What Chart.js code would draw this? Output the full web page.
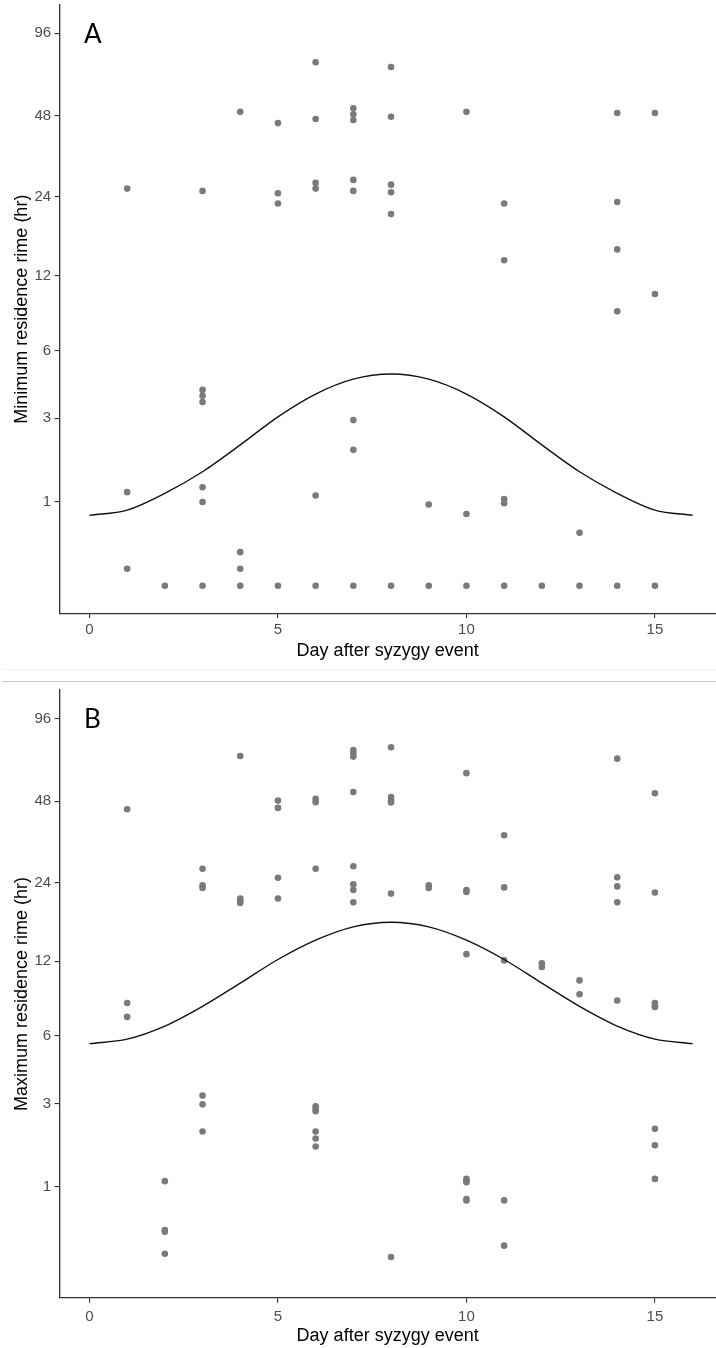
<!DOCTYPE html>
<html><head><meta charset="utf-8">
<script src="https://cdn.jsdelivr.net/npm/chart.js@4"></script>
<style>
html,body{margin:0;padding:0;background:#fff;width:716px;height:1348px;overflow:hidden;position:relative}
canvas{position:absolute;left:0}
#ca{top:0}
#cb{top:684px}
.lbl{position:absolute;font-family:Lato,'Liberation Sans',sans-serif;font-size:26px;line-height:26px;color:#000}
.sep{position:absolute;left:2px;width:714px;height:1px}
</style></head><body>
<canvas id="ca" width="716" height="668"></canvas>
<canvas id="cb" width="716" height="664"></canvas>
<div class="sep" style="top:669px;background:#f2f2f2"></div>
<div class="sep" style="top:681px;background:#c8c8c8"></div>
<div class="lbl" style="left:84px;top:19.5px">A</div>
<div class="lbl" style="left:84px;top:704.5px">B</div>
<script>
const tickHours = [1, 3, 6, 12, 24, 48, 96];
const tickLabels = ['1', '3', '6', '12', '24', '48', '96'];
const xTicks = [0, 5, 10, 15];

const daysA = [1,1,1, 2, 3,3,3,3,3,3,3, 4,4,4,4, 5,5,5,5, 6,6,6,6,6,6, 7,7,7,7,7,7,7,7, 8,8,8,8,8,8, 9,9, 10,10,10, 11,11,11,11,11, 12, 13,13, 14,14,14,14,14, 15,15,15];
const minHours = [25.8,1.17,0.15, 0, 25.3,4.06,3.82,3.58,1.26,1.0,0, 49.6,0.32,0.15,0, 45.1,24.8,22.7,0, 75.3,46.7,27.1,25.8,1.11,0, 51.1,48.6,46.3,27.8,25.3,2.94,2.08,0, 72.4,47.6,26.7,25.0,20.7,0, 0.96,0, 49.6,0.81,0, 22.7,13.8,1.05,0.98,0, 0, 0.55,0, 49.1,23.0,15.2,8.7,0, 49.1,10.2,0];

const daysB = [1,1,1, 2,2,2,2, 3,3,3,3,3,3, 4,4,4,4, 5,5,5,5, 6,6,6,6,6,6,6,6,6, 7,7,7,7,7,7,7,7, 8,8,8,8,8,8, 9,9, 10,10,10,10,10,10,10,10,10, 11,11,11,11,11, 12,12, 13,13, 14,14,14,14,14, 15,15,15,15,15,15,15,15];
const maxHours = [44.9,8.2,7.2, 1.10,0.40,0.38,0.15, 27.0,23.4,22.9,3.27,2.97,2.17, 70.4,20.9,20.5,20.1, 48.3,45.4,25.0,20.9, 49.0,47.6,27.0,2.91,2.82,2.75,2.17,1.99,1.80, 74,72,70,51.9,27.6,23.6,22.5,20.2, 75.7,49.8,48.3,47.5,21.8,0.12, 23.4,22.9, 60.9,22.5,22.1,12.8,1.14,1.11,1.08,0.81,0.79, 36.0,23.0,12.1,0.79,0.23, 11.8,11.4, 10.1,8.9, 68.8,25.1,23.2,20.2,8.4, 51.4,22.0,8.2,8.0,7.9,2.24,1.83,1.14];

const curveDays = [0,1,2,3,4,5,6,7,8,9,10,11,12,13,14,15,16];
const curveMin = [0.79,0.87,1.15,1.57,2.21,3.05,3.89,4.53,4.77,4.53,3.89,3.05,2.21,1.57,1.15,0.87,0.79];
const curveMax = [5.57,5.82,6.6,7.95,9.85,12.2,14.5,16.3,16.97,16.3,14.5,12.2,9.85,7.95,6.6,5.82,5.57];

const FONT = "'Liberation Sans', Arial, sans-serif";

function build(id, days, hours, curveHours, yMin, yMax, padTop, xAxisH, yTitle, xTitlePad, xTickPad) {
  const pts = days.map((d, i) => ({x: d, y: Math.log1p(hours[i])}));
  const line = curveDays.map((d, i) => ({x: d, y: Math.log1p(curveHours[i])}));
  new Chart(document.getElementById(id), {
    type: 'scatter',
    data: {datasets: [
      {type: 'line', data: line, borderColor: '#111', borderWidth: 1.4, pointRadius: 0,
       cubicInterpolationMode: 'monotone', fill: false},
      {data: pts, pointRadius: 3.3, pointBackgroundColor: '#7a7a7a', pointBorderWidth: 0,
       pointBorderColor: '#7a7a7a'}
    ]},
    options: {
      responsive: false, animation: false, devicePixelRatio: 1,
      layout: {autoPadding: false, padding: {top: padTop, left: 0, right: 0, bottom: 0}},
      plugins: {legend: {display: false}, tooltip: {enabled: false}},
      scales: {
        x: {
          type: 'linear', min: -0.8, max: 16.62,
          afterBuildTicks: s => { s.ticks = xTicks.map(v => ({value: v})); },
          afterFit: s => { s.height = xAxisH; s.paddingLeft = 0; s.paddingRight = 0; },
          grid: {drawOnChartArea: false, drawTicks: true, tickLength: 4.7, color: '#333', lineWidth: 1.1},
          border: {display: true, color: '#333', width: 1.3},
          ticks: {color: '#4d4d4d', font: {family: FONT, size: 15}, padding: xTickPad, maxRotation: 0, autoSkip: false},
          title: {display: true, text: 'Day after syzygy event', color: '#000',
                  font: {family: FONT, size: 18}, padding: {top: 0, bottom: xTitlePad}}
        },
        y: {
          type: 'linear', min: yMin, max: yMax,
          afterBuildTicks: s => { s.ticks = tickHours.map(v => ({value: Math.log1p(v)})); },
          afterFit: s => { s.width = 59.3; s.paddingTop = 0; s.paddingBottom = 0; },
          grid: {drawOnChartArea: false, drawTicks: true, tickLength: 4.7, color: '#333', lineWidth: 1.1},
          border: {display: true, color: '#333', width: 1.3},
          ticks: {color: '#4d4d4d', font: {family: FONT, size: 15}, padding: 3.5, autoSkip: false,
                  callback: (v, i) => tickLabels[i]},
          title: {display: true, text: yTitle, color: '#000',
                  font: {family: FONT, size: 18}, padding: {top: 11, bottom: 0}}
        }
      }
    }
  });
}

build('ca', daysA, minHours, curveMin, -0.2286, 4.809, 5, 54.7, 'Minimum residence rime (hr)', 6.2, 3);
build('cb', daysB, maxHours, curveMax, -0.227, 4.815, 6, 50, 'Maximum residence rime (hr)', 1.2, 5.5);
</script>
</body></html>
